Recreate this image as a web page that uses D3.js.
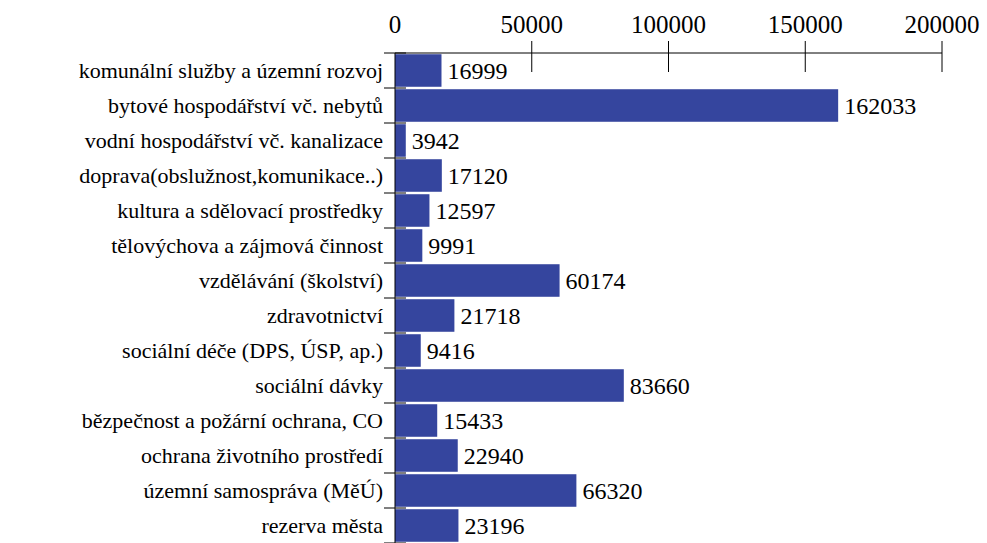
<!DOCTYPE html>
<html><head><meta charset="utf-8">
<script src="https://cdn.jsdelivr.net/npm/d3@7"></script>
</head><body style="margin:0">
<script>
const categories = [
  "komunální služby a územní rozvoj",
  "bytové hospodářství vč. nebytů",
  "vodní hospodářství vč. kanalizace",
  "doprava(obslužnost,komunikace..)",
  "kultura a sdělovací prostředky",
  "tělovýchova a zájmová činnost",
  "vzdělávání (školství)",
  "zdravotnictví",
  "sociální déče (DPS, ÚSP, ap.)",
  "sociální dávky",
  "bězpečnost a požární ochrana, CO",
  "ochrana životního prostředí",
  "územní samospráva (MěÚ)",
  "rezerva města"
];
const values = [16999, 162033, 3942, 17120, 12597, 9991, 60174, 21718, 9416, 83660, 15433, 22940, 66320, 23196];
const xTicks = [0, 50000, 100000, 150000, 200000];

const W = 987, H = 543;
const margin = {top: 53, left: 395, right: 45};
const FONT = "Liberation Serif";
const svg = d3.select("body").append("svg").attr("width", W).attr("height", H)
  .style("display", "block");
const iw = W - margin.left - margin.right;
const ih = categories.length * 35;
const ox = margin.left, oy = margin.top;

const x = d3.scaleLinear().domain([0, 200000]).range([ox, ox + iw]);
const y = d3.scaleBand().domain(categories).range([oy, oy + ih]).paddingInner(0.07).paddingOuter(0.035);

function txt(sel, size) {
  return sel.attr("font-family", FONT).attr("font-size", size)
    .style("font-family", FONT, "important").style("font-size", size + "px", "important")
    .attr("fill", "#000");
}

svg.selectAll("rect.bar").data(values).join("rect")
  .attr("class", "bar")
  .attr("x", x(0))
  .attr("y", (d, i) => y(categories[i]))
  .attr("width", d => x(d) - x(0))
  .attr("height", y.bandwidth())
  .attr("fill", "#35459e");

txt(svg.selectAll("text.val").data(values).join("text")
  .attr("class", "val")
  .attr("x", d => x(d) + 6)
  .attr("y", (d, i) => y(categories[i]) + y.bandwidth() / 2 + 8), 24)
  .text(d => d);

// top axis
svg.append("line").attr("x1", ox).attr("x2", ox + iw).attr("y1", oy).attr("y2", oy).attr("stroke", "#000");
svg.selectAll("line.xt").data(xTicks.filter(d => d > 0)).join("line").attr("class", "xt")
  .attr("x1", d => x(d)).attr("x2", d => x(d)).attr("y1", oy - 12).attr("y2", oy + 19).attr("stroke", "#000");
txt(svg.selectAll("text.xl").data(xTicks).join("text").attr("class", "xl")
  .attr("x", d => x(d)).attr("y", oy - 20).attr("text-anchor", "middle"), 25)
  .text(d => d);

// left axis
svg.append("line").attr("x1", ox).attr("x2", ox).attr("y1", oy).attr("y2", oy + ih).attr("stroke", "#000");
svg.selectAll("line.yt").data(d3.range(categories.length + 1)).join("line").attr("class", "yt")
  .attr("x1", ox - 11).attr("x2", ox + 11)
  .attr("y1", i => oy + i * ih / categories.length).attr("y2", i => oy + i * ih / categories.length)
  .attr("stroke", "#000");
txt(svg.selectAll("text.yl").data(categories).join("text").attr("class", "yl")
  .attr("x", ox - 12).attr("y", d => y(d) + y.bandwidth() / 2 + 7)
  .attr("text-anchor", "end"), 22)
  .text(d => d);
</script>
</body></html>
